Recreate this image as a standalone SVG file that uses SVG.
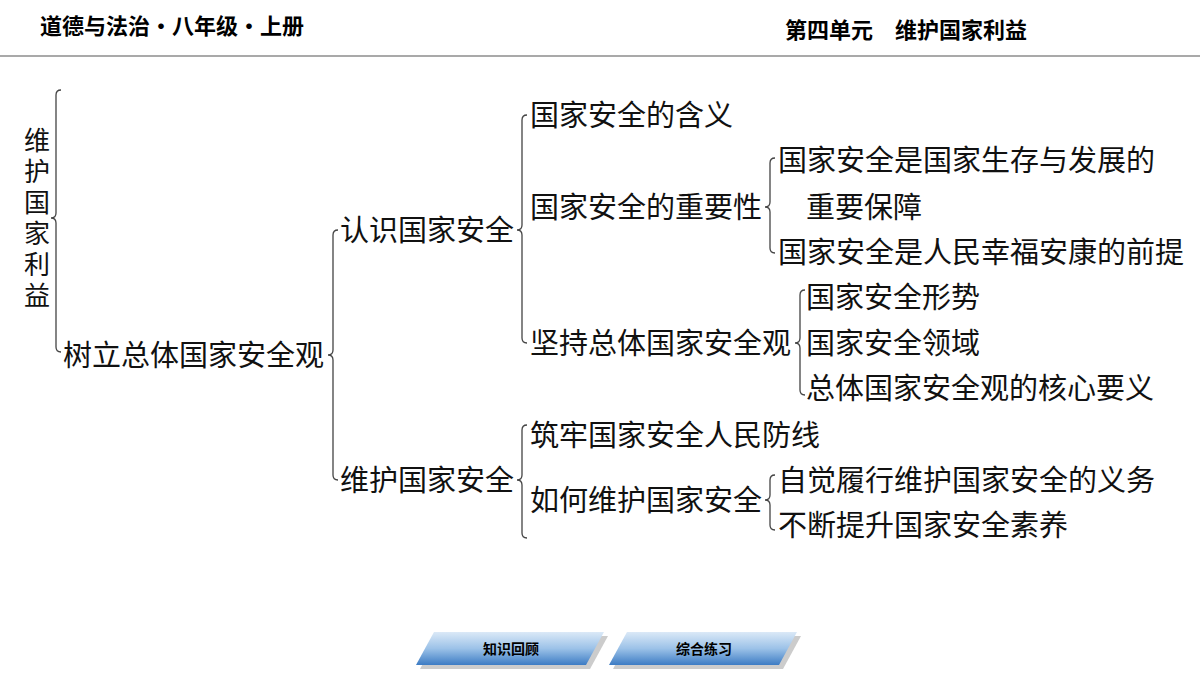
<svg xmlns="http://www.w3.org/2000/svg" width="1200" height="675" viewBox="0 0 1200 675">
<defs>
<linearGradient id="bg" x1="0" y1="0" x2="0" y2="1"><stop offset="0" stop-color="#dbe9f7"/><stop offset="0.5" stop-color="#9cc2e8"/><stop offset="1" stop-color="#3d7cc4"/></linearGradient>
<style>
.t{font-family:"Noto Sans CJK SC",sans-serif;font-size:29px;fill:#111}
.v{font-family:"Noto Sans CJK SC",sans-serif;font-size:26px;fill:#111;writing-mode:vertical-rl;letter-spacing:5px}
.h{font-family:"Noto Sans CJK SC",sans-serif;font-size:22px;font-weight:bold;fill:#000}
.b{font-family:"Noto Sans CJK SC",sans-serif;font-size:14px;font-weight:bold;fill:#000}
.br{fill:none;stroke:#444;stroke-width:1.3}
</style>
</defs>
<rect width="1200" height="675" fill="#fff"/>
<text class="h" x="40" y="34">道德与法治・八年级・上册</text>
<text class="h" x="785" y="38">第四单元　维护国家利益</text>
<line x1="0" y1="56" x2="1200" y2="56" stroke="#555" stroke-width="1.2"/>
<g id="connectors">
<path class="br" d="M61,90 Q56,90 56,95 L56,213 Q56,218 51,218 Q56,218 56,223 L56,347 Q56,352 61,352"/>
<path class="br" d="M338,230 Q333,230 333,235 L333,350 Q333,355 328,355 Q333,355 333,360 L333,475 Q333,480 338,480"/>
<path class="br" d="M527,115 Q522,115 522,120 L522,225 Q522,230 517,230 Q522,230 522,235 L522,338 Q522,343 527,343"/>
<path class="br" d="M775,158 Q770,158 770,163 L770,202 Q770,207 765,207 Q770,207 770,212 L770,248 Q770,253 775,253"/>
<path class="br" d="M805,290 Q800,290 800,295 L800,338 Q800,343 795,343 Q800,343 800,348 L800,390 Q800,395 805,395"/>
<path class="br" d="M527,425 Q522,425 522,430 L522,475 Q522,480 517,480 Q522,480 522,485 L522,533 Q522,538 527,538"/>
<path class="br" d="M775,475 Q770,475 770,480 L770,495 Q770,500 765,500 Q770,500 770,505 L770,525 Q770,530 775,530"/>
</g>
<g id="root"><text class="v" x="37" y="127">维护国家利益</text></g>
<g id="n1"><text class="t" x="63" y="366">树立总体国家安全观</text></g>
<g id="n2"><text class="t" x="340" y="241">认识国家安全</text></g>
<g id="n3"><text class="t" x="340" y="491">维护国家安全</text></g>
<g id="n4"><text class="t" x="530" y="126">国家安全的含义</text></g>
<g id="n5"><text class="t" x="530" y="218">国家安全的重要性</text></g>
<g id="n6"><text class="t" x="530" y="354">坚持总体国家安全观</text></g>
<g id="n7"><text class="t" x="778" y="171">国家安全是国家生存与发展的</text><text class="t" x="806" y="218">重要保障</text></g>
<g id="n8"><text class="t" x="778" y="263">国家安全是人民幸福安康的前提</text></g>
<g id="n9"><text class="t" x="806" y="308">国家安全形势</text></g>
<g id="n10"><text class="t" x="806" y="354">国家安全领域</text></g>
<g id="n11"><text class="t" x="806" y="399">总体国家安全观的核心要义</text></g>
<g id="n12"><text class="t" x="530" y="446">筑牢国家安全人民防线</text></g>
<g id="n13"><text class="t" x="530" y="511">如何维护国家安全</text></g>
<g id="n14"><text class="t" x="778" y="491">自觉履行维护国家安全的义务</text></g>
<g id="n15"><text class="t" x="778" y="536">不断提升国家安全素养</text></g>
<g id="btn1"><polygon points="438,636 608,636 590,669 420,669" fill="#999" opacity="0.5"/><polygon points="434,632 604,632 586,665 416,665" fill="url(#bg)"/><text class="b" x="511" y="654" text-anchor="middle">知识回顾</text></g>
<g id="btn2"><polygon points="631,636 801,636 783,669 613,669" fill="#999" opacity="0.5"/><polygon points="627,632 797,632 779,665 609,665" fill="url(#bg)"/><text class="b" x="704" y="654" text-anchor="middle">综合练习</text></g>
</svg>
